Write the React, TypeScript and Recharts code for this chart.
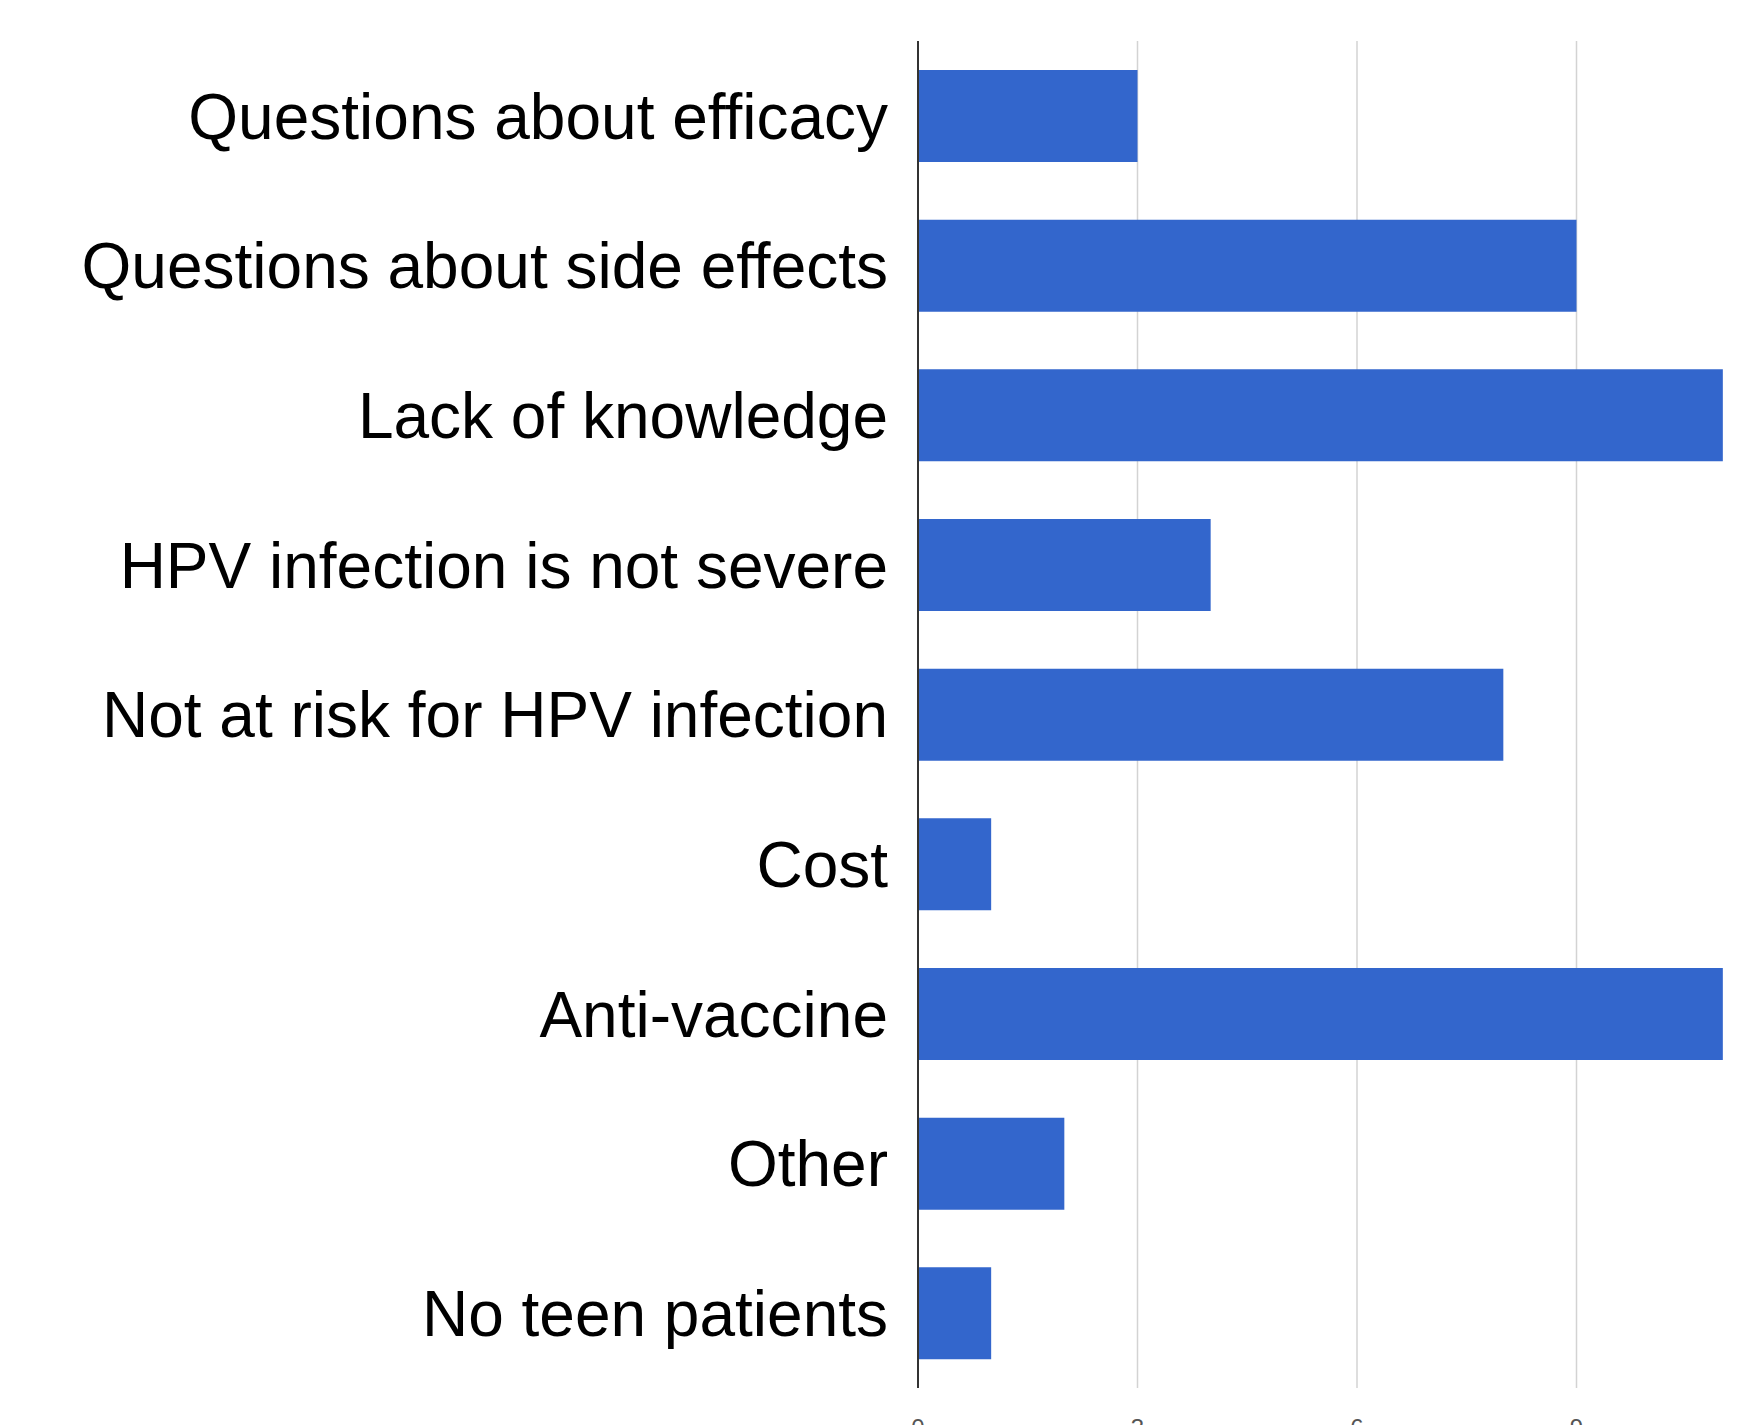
import React from "react";
import { BarChart, Bar, XAxis, YAxis, CartesianGrid } from "recharts";

const categories = [
  "Questions about efficacy",
  "Questions about side effects",
  "Lack of knowledge",
  "HPV infection is not severe",
  "Not at risk for HPV infection",
  "Cost",
  "Anti-vaccine",
  "Other",
  "No teen patients",
];
const counts = [3, 9, 11, 4, 8, 1, 11, 2, 1];
const xTicks = [0, 3, 6, 9, 12];

const data = categories.map((name, i) => ({ name, value: counts[i] }));

export default function App() {
  return (
    <div
      style={{
        position: "absolute",
        left: 0,
        top: 0,
        width: 1752,
        height: 1425,
        overflow: "hidden",
        background: "#fff",
      }}
    >
      <BarChart
        width={1900}
        height={1500}
        data={data}
        layout="vertical"
        margin={{ top: 41, right: 104, left: 0, bottom: 52 }}
      >
        <CartesianGrid horizontal={false} stroke="#d3d3d3" strokeWidth={1.5} />
        <XAxis
          type="number"
          domain={[0, 12]}
          ticks={xTicks}
          axisLine={false}
          tickLine={false}
          tickSize={29}
          tickMargin={2}
          height={60}
          tick={{ fontSize: 24, fill: "#555", fontFamily: "Liberation Sans, Arial, sans-serif" }}
        />
        <YAxis
          type="category"
          dataKey="name"
          width={918}
          interval={0}
          tickLine={false}
          tickSize={0}
          tickMargin={30}
          axisLine={{ stroke: "#333", strokeWidth: 2 }}
          tick={{ fontSize: 64, fill: "#000", fontFamily: "Liberation Sans, Arial, sans-serif" }}
        />
        <Bar dataKey="value" fill="#3366cc" barSize={92} isAnimationActive={false} />
      </BarChart>
    </div>
  );
}
